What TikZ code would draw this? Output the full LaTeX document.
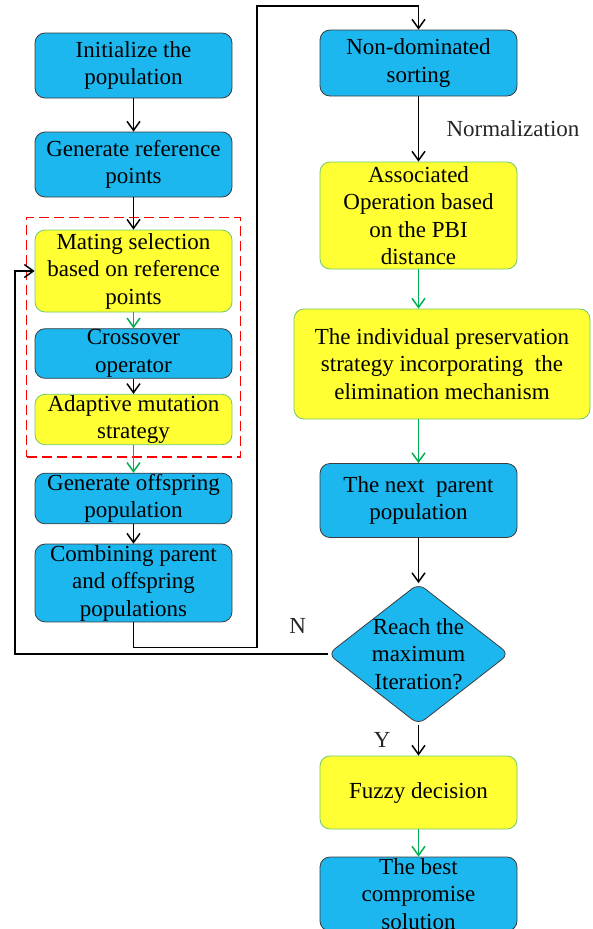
\documentclass[tikz,border=0pt]{standalone}
\usepackage{fontspec}
\setmainfont{Liberation Serif}
\usepackage{tikz}
\usetikzlibrary{arrows.meta,shapes.geometric,fit,positioning}
\definecolor{boxblue}{RGB}{29,183,240}
\definecolor{boxyellow}{RGB}{255,255,51}
\definecolor{okgreen}{RGB}{0,176,80}
\definecolor{yedge}{RGB}{110,200,110}
\definecolor{bedge}{RGB}{60,60,60}

\begin{document}
\begin{tikzpicture} [x=1pt,y=-1pt,>={Straight Barb[length=9pt,width=13pt]},line width=1.5pt,
  every node/.style={font=\fontsize{23}{27.5}\selectfont,align=center},
  bluebox/.style={draw=bedge,line width=0.8pt,fill=boxblue,rounded corners=10pt,minimum width=197pt,inner sep=1pt},
  yellowbox/.style={bluebox,draw=yedge,fill=boxyellow},
  decision/.style={diamond,draw=bedge,line width=0.8pt,fill=boxblue,rounded corners=8pt,aspect=1.28,minimum width=181pt,minimum height=141pt,inner sep=0pt},
  note/.style={text=black!85}]
  \useasboundingbox (0,0) rectangle (592,929);
  \clip (0,0) rectangle (592,929);

  % left column
  \node[bluebox,minimum height=65pt] (init) at (133.5,65.5) {Initialize the\\population};
  \node[bluebox,minimum height=65pt] (refpts) at (133.5,164.5) {Generate reference\\points};
  \node[yellowbox,minimum height=82pt] (mating) at (133.5,271) {Mating selection\\based on reference\\points};
  \node[bluebox,minimum height=49pt] (cross) at (133.5,353.5) {Crossover\\operator};
  \node[yellowbox,minimum height=49pt] (adapt) at (133.5,419.5) {Adaptive mutation\\strategy};
  \node[bluebox,minimum height=49pt] (genoff) at (133.5,498.5) {Generate offspring\\population};
  \node[bluebox,minimum height=74pt] (comb) at (133.5,583) {Combining parent\\and offspring\\populations};
  \node[fit=(mating)(adapt),draw=red,dash pattern=on 10pt off 5pt,inner xsep=8pt,inner ysep=12pt] (grp) {};

  % right column
  \node[bluebox,minimum height=66pt] (nondom) at (418.5,63) {Non-dominated\\sorting};
  \node[yellowbox,minimum height=107pt] (assoc) at (418.5,215.5) {Associated\\Operation based\\on the PBI\\distance};
  \node[yellowbox,minimum width=296pt,minimum height=110pt] (indiv) at (442,364) {The individual preservation\\strategy incorporating~ the\\elimination mechanism};
  \node[bluebox,minimum height=74pt] (next) at (418.5,500.5) {The next~ parent\\population};
  \node[decision] (reach) at (418.5,654) {};
  \node (reachtxt) at (reach.center) {Reach the\\maximum\\Iteration?};
  \node[yellowbox,minimum height=73pt] (fuzzy) at (418.5,792.5) {Fuzzy decision};
  \node[bluebox,minimum height=74pt] (best) at (418.5,894) {The best\\compromise\\solution};

  \path[->]
    (init) edge (refpts)
    (refpts) edge (mating)
    (cross) edge (adapt)
    (genoff) edge (comb)
    (nondom) edge node[note,right=24pt] {Normalization} (assoc)
    (next) edge (reach)
    (reach) edge node[note,left=24pt] {Y} (fuzzy);

  \path[->,okgreen]
    (mating) edge (cross)
    (adapt) edge (genoff)
    (assoc) edge (assoc.south |- indiv.north)
    (next.north |- indiv.south) edge (next)
    (fuzzy) edge (best);

  \draw[->] (comb.south) -- ++(0,25) -| (257,6) -| (nondom.north);
  \draw[->] (reach.west) -- node[note,above=16pt] {N} ++(-60,0) -| (15,271) -- (mating.west);

\end{tikzpicture}
\end{document}
